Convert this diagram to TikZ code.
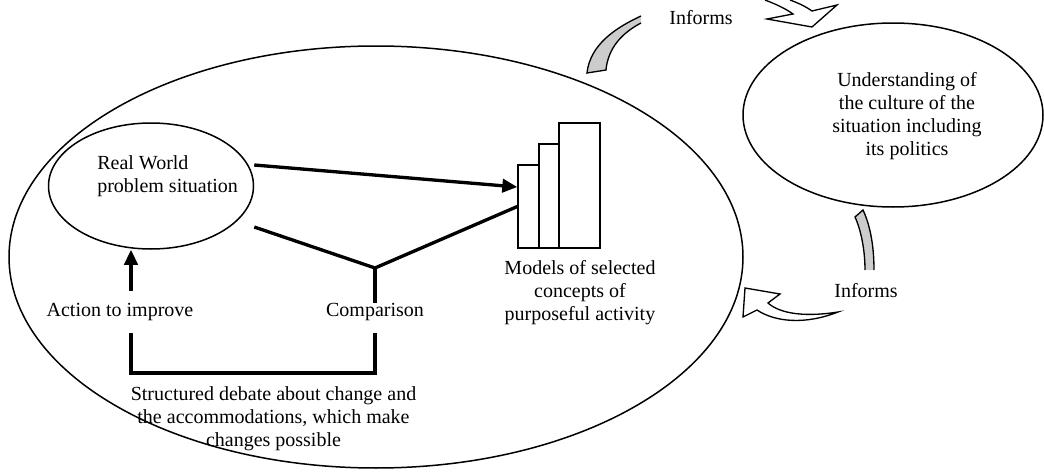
\documentclass[tikz,border=0pt]{standalone}
\usepackage{fontspec}
\setmainfont{Liberation Serif}
\usetikzlibrary{shapes.geometric,arrows.meta,calc}
\begin{document}
\begin{tikzpicture}[x=0.6pt,y=-0.6pt,
  every node/.style={font=\fontsize{12}{13.8}\selectfont},
  oval/.style={draw,ellipse,line width=0.9pt,inner sep=0pt},
  bar/.style={draw,rectangle,line width=0.8pt,inner sep=0pt},
  lab/.style={inner sep=0pt,align=center},
  heavy/.style={line width=2pt},
  harrow/.style={line width=2pt,-{Triangle[length=9pt,width=8pt]}},
  bandfill/.style={fill=black!20},
  bandline/.style={draw,line width=0.8pt},
  head/.style={draw,line width=0.8pt,fill=white,line join=miter}
]
\useasboundingbox (0,0) rectangle (1044,474);

% containers
\node[oval,minimum width=440.4pt,minimum height=253.2pt] (outer) at (376,257) {};
\node[oval,minimum width=123pt,minimum height=75.6pt] (rw) at (151,186) {};
\node[lab,align=left,anchor=west] (rwt) at (97,176.5) {Real World\\problem situation};
\node[oval,minimum width=180pt,minimum height=110.4pt] (un) at (893,115) {};
\node[lab] (unt) at (907,116) {Understanding of\\the culture of the\\situation including\\its politics};

% model bars
\node[bar,minimum width=12.6pt,minimum height=49.8pt] (r1) at (528.5,206.5) {};
\node[bar,minimum width=12pt,minimum height=62.4pt] (r2) at (549,196) {};
\node[bar,minimum width=24.6pt,minimum height=75pt] (r3) at (579.5,185.5) {};
\node[lab] (mod) at (580,293) {Models of selected\\concepts of\\purposeful activity};

% labels
\node[lab] (cmp) at (375,312) {Comparison};
\node[lab] (act) at (120,312) {Action to improve};
\node[lab] (deb) at (273.5,419) {Structured debate about change and\\the accommodations, which make\\changes possible};
\node[lab] (inf1) at (701,18) {Informs};
\node[lab] (inf2) at (866,291) {Informs};

\coordinate (j) at (375,268);
\coordinate (ax) at (131,0);
\coordinate (bot) at (131,373);

% connectors
\draw[harrow] ([yshift=12.6pt]rw.east) -- ([yshift=11.7pt]r1.west);
\draw[heavy] ([yshift=-24.6pt]rw.east) -- (j) -- (r1.west);
\draw[heavy] (j) -- (cmp.north);
\draw[harrow] ($(act.north -| ax)+(0,-12)$) -- (ax |- rw.south);
\draw[heavy] ($(cmp.south)+(0,12)$) -- (cmp.south |- bot) -- (bot) -- ($(act.south -| bot)+(0,12)$);

% top curved arrow (Informs)
\fill[bandfill] (587,73) .. controls (590,45) and (615,28) .. (641,16) -- (641,23) .. controls (622,33) and (608,48) .. (606,70) -- cycle;
\draw[bandline] (641,16) .. controls (615,28) and (590,45) .. (587,73) -- (606,70) .. controls (608,48) and (622,33) .. (641,23);
\draw[head] (765,0) .. controls (778,5) and (786,9) .. (793,14) -- (767,19) -- (812,27) -- (837,5) -- (812,11) .. controls (805,6) and (798,3) .. (790,0);

% right curved arrow (Informs)
\fill[bandfill] (855,217) .. controls (861,230) and (865,250) .. (865,270) -- (874,270) .. controls (874,245) and (870,225) .. (863,210) -- cycle;
\draw[bandline] (865,270) .. controls (865,250) and (861,230) .. (855,217) -- (863,210) .. controls (870,225) and (874,245) .. (874,270);
\draw[head] (745,288) -- (780,294) -- (768,303) .. controls (778,312) and (800,318) .. (838,312) .. controls (805,325) and (775,322) .. (757,310) -- (743,317) -- cycle;
\end{tikzpicture}
\end{document}
